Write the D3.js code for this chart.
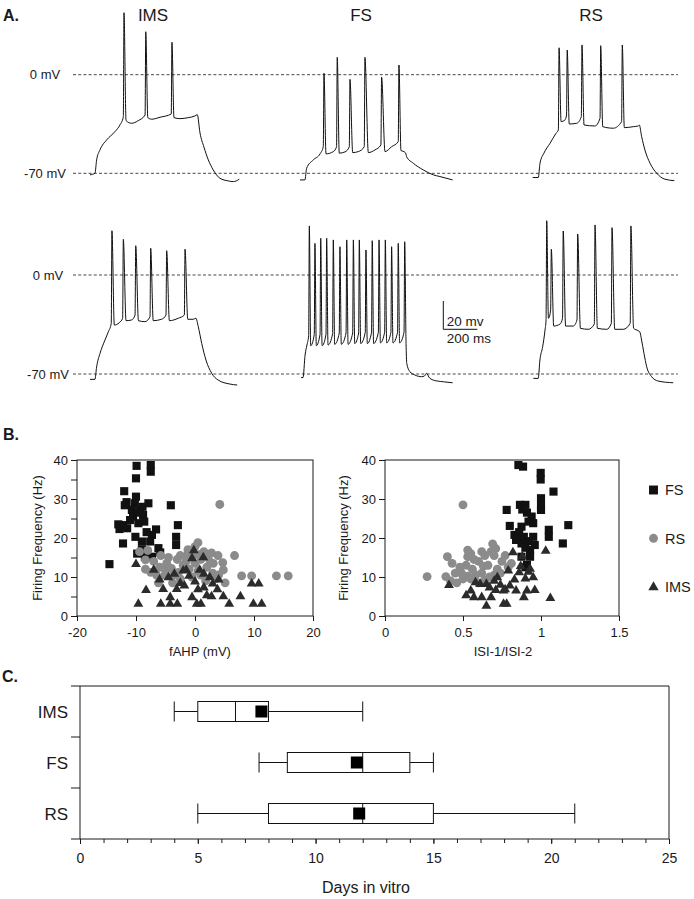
<!DOCTYPE html>
<html><head><meta charset="utf-8">
<script src="https://cdn.jsdelivr.net/npm/d3@7"></script>
<style>
body{margin:0;background:#fff}
svg{display:block}
</style>
</head><body>
<svg id="fig" width="694" height="899"></svg>
<script>
// ---------------- DATA ----------------
// Panel A: membrane-potential traces, [time (ms), Vm (mV)]; subthreshold points and spike peaks
const traceNames = ["IMS", "FS", "RS"];
const refLevels = [0, -70];
const refLabels = ["0 mV", "-70 mV"];

const imsTopEnv = [[0,-71.1],[29,-70],[39,-60.5],[59,-53.3],[98,-46.3],[147,-40.4],[176,-35.7],[196,-30],[212,-32.6],[245,-34.5],[284,-32.6],[324,-28.6],[340,-30.5],[363,-31.6],[412,-30.2],[478,-27.9],[494,-30.5],[529,-31.2],[578,-30.5],[617,-29.3],[631,-28.4],[647,-41.3],[670,-51.3],[696,-60.5],[725,-67.6],[764,-73.5],[813,-75.4],[843,-75.9],[878,-74.2]];
const imsTopSpikes = [[200,44],[328,30.5],[482,23]];

const fsTopEnv = [[0,-74.7],[29,-74.7],[39,-66.4],[78,-60.5],[118,-56.2],[137,-51.1],[153,-56.2],[196,-54.6],[215,-51.1],[231,-55.7],[265,-54.8],[290,-51.1],[310,-55.3],[343,-54.6],[378,-51.1],[402,-55.3],[441,-53.4],[476,-49.9],[500,-54.6],[539,-51.1],[578,-47.5],[594,-53.9],[612,-54.6],[623,-56.2],[627,-58.2],[666,-62.8],[725,-67.6],[784,-71.1],[823,-72.3],[898,-74.7]];
const fsTopSpikes = [[141,1],[219,12.3],[294,-3.3],[382,12.3],[480,-1.8],[582,6.9]];

const rsTopEnv = [[0,-73],[33,-73],[43,-62.8],[66,-55.7],[102,-48.7],[137,-41.6],[151,-39.2],[167,-33.3],[190,-32.1],[199,-28.6],[215,-35],[259,-34.5],[286,-29.8],[302,-35.7],[366,-36.4],[396,-30.9],[412,-36.9],[474,-38],[523,-33.3],[539,-37.6],[592,-36.9],[621,-36.4],[627,-35.7],[641,-44],[660,-53.4],[690,-62.8],[729,-69.9],[778,-74.2],[833,-75.2]];
const rsTopSpikes = [[155,19.1],[203,17.5],[290,21.1],[400,20.6],[527,21.1]];

const imsBotEnv = [[0,-73.8],[29,-73.8],[39,-64.9],[59,-55.4],[88,-46],[108,-40.1],[125,-34.2],[143,-35.4],[172,-33.7],[192,-30.6],[212,-32.3],[245,-31.8],[265,-28.3],[285,-32.3],[323,-33],[353,-29.5],[372,-32.3],[421,-31.3],[447,-28.3],[467,-32.3],[519,-30.6],[555,-28.3],[575,-31.3],[607,-31.3],[623,-30.6],[637,-36.6],[657,-48.3],[682,-60.1],[716,-69.5],[754,-74.3],[823,-77.1],[866,-77.8]];
const imsBotSpikes = [[129,31.3],[196,25.2],[269,20.7],[357,18.9],[451,17.2],[559,18.2]];

const fsBotEnv = [[0,-72.5],[12,-72.5],[24,-56.6],[35,-49.5],[45,-43],[57,-50],[78,-42],[90,-50],[112,-42],[124,-50],[147,-42],[159,-49.5],[186,-41.5],[198,-49],[225,-41],[237,-49],[265,-41],[277,-49],[304,-41],[316,-48.5],[339,-41],[351,-48.5],[378,-40.5],[390,-48.5],[415,-40.5],[427,-48.5],[455,-40.5],[467,-48],[492,-40.5],[504,-48],[529,-40.5],[541,-48],[568,-40.5],[580,-48],[606,-40.5],[618,-48.5],[622,-62.4],[641,-68.4],[670,-70.7],[709,-71.9],[726,-71.4],[739,-69.5],[752,-72.1],[778,-74.3],[837,-75.5],[892,-76.2]];
const fsBotSpikes = [[49,34.7],[82,22.4],[116,26],[151,26],[190,24.8],[229,20],[269,24.8],[308,24.8],[343,24.8],[382,17.7],[419,24.3],[459,24.8],[496,24.8],[533,20],[572,22.4],[610,23.5]];

const rsBotEnv = [[0,-73.1],[29,-73.1],[39,-60.1],[55,-50.7],[69,-38.9],[75,-31.8],[89,-30.6],[102,-24.8],[120,-36.1],[157,-34.7],[172,-30.6],[190,-36.1],[235,-36.1],[257,-31.8],[277,-37.7],[323,-38.4],[359,-34.7],[377,-37.7],[432,-38.4],[459,-34.2],[479,-38.4],[529,-38.4],[570,-34.2],[590,-37.7],[617,-39.4],[627,-40.3],[637,-46],[651,-55.4],[667,-64.9],[696,-71.9],[735,-75],[823,-76.2]];
const rsBotSpikes = [[79,38.4],[106,18.2],[176,31.1],[261,29],[363,35.4],[463,33.5],[574,34.7]];

const scaleBarMv = 20;
const scaleBarMs = 200;

// Panel B: [fAHP (mV), firing frequency (Hz)]
const fahpFS = [[-9.9,38.5],[-7.5,38.7],[-7.5,37.0],[-10,35.3],[-12,32],[-10,30.6],[-11.6,29.2],[-10.2,28.9],[-7.9,28.9],[-4.1,28.4],[-10.7,27.2],[-9.3,27.2],[-8.8,25.9],[-10.5,25.5],[-9.5,26.5],[-11,24.6],[-9.6,23.8],[-12.2,23.3],[-12.8,22.3],[-6.6,22.2],[-2.9,23.3],[-7.3,20.8],[-10.1,20.3],[-3.2,20.3],[-3.2,18.2],[-12.2,18.6],[-9,19.1],[-7.6,19.1],[-6.2,17.4],[-9,17.1],[-8.5,15.2],[-7.3,15.2],[-14.5,13.3],[-13,23.5],[-11.5,22.5],[-8.2,21.5],[-9.8,16.0],[-5.9,16.3],[-8.9,28.0],[-11.9,28.4],[-8.6,24.2]];
const fahpRS = [[4.2,28.6],[13.8,10.3],[15.8,10.3],[7.9,10.3],[9.6,10.3],[6.7,15.5],[3.9,15.5],[4.7,13.7],[0.5,18.8],[-8.4,12],[-8.4,14.4],[-6.2,8.5],[-5.8,15.5],[-4.8,13.5],[-5.1,10.5],[-3.7,10.5],[-2.5,15.5],[-1.4,15.5],[-0.3,15.5],[3.1,13.5],[4.8,11.8],[5.1,8.5],[-3.8,8.5],[0,17.8],[-9.4,16.5],[-8,16.8],[-7,14],[-6,12.5],[-5,11.8],[-2,13],[-1,12],[0,13.5],[1,14.5],[2,12.5],[3,11],[1.5,16.5],[-0.5,10],[-2.5,9.5],[-4,12.2],[-3,14.5],[1,10.5],[2.2,15],[3.6,9.6],[0.5,11.5],[-1.5,14],[-2.8,11.2],[-4.5,15],[2.8,16.2],[-6.5,10.5],[-7.5,11.2],[4,10.5],[1.8,9.0],[-1.2,17],[0.8,15.8],[2.6,13.8]];
const fahpIMS = [[-10,13.5],[-8.3,6.8],[-9.6,3.3],[-5.8,3.3],[-5.4,7.1],[-4.2,3.3],[-3,3.3],[-4.2,5],[-3.1,7.1],[-4.5,10.1],[-2,11.8],[-1,10.5],[-0.2,17],[1.4,15.2],[2.5,10.1],[0.3,3.3],[1,3.3],[2.8,5.2],[4.8,5.2],[5.8,3.3],[7.7,5.2],[9.6,8.5],[10.8,8.5],[9.9,3.3],[11.3,3.3],[-3.5,11],[-1.5,12],[0,9],[0.5,7],[1.5,7.5],[2,5.5],[3,8.5],[3.8,7],[-0.5,5],[-1.8,8],[0.8,12],[-0.5,15],[-2.5,8.6],[-6,9.5],[-7,12],[4,9.5],[1.5,11]];

// Panel B: [ISI-1/ISI-2, firing frequency (Hz)]
const isiFS = [[0.855,38.7],[0.885,38.3],[0.998,36.7],[0.998,35],[1.08,31.9],[1.0,30.2],[1.0,28.5],[0.78,27.2],[0.865,28.5],[0.9,28.5],[0.91,26.5],[0.94,25.5],[0.8,23.1],[0.875,22.9],[0.83,20.8],[0.89,20.3],[0.95,20.3],[1.05,22.1],[1.05,20.3],[1.175,23.3],[1.14,18.6],[0.875,18.6],[0.96,18.2],[0.875,15.2],[0.93,16.9],[0.93,15.2],[0.91,13.1],[0.88,27.3],[0.92,24.2],[0.86,21.5],[0.9,17.5],[0.95,23.8],[1.0,27.2],[0.84,19.5],[0.92,19.2],[0.9,12.5]];
const isiRS = [[0.5,28.5],[0.27,10.1],[0.39,10.1],[0.4,15.2],[0.43,13.5],[0.53,16.9],[0.53,15.2],[0.69,18.5],[0.81,13.5],[0.46,8.5],[0.49,11],[0.52,13],[0.56,12],[0.6,14],[0.62,11],[0.64,15.5],[0.66,13],[0.7,15.5],[0.72,12],[0.75,14],[0.55,9.5],[0.58,10.5],[0.6,8.5],[0.67,10],[0.45,11],[0.5,9.5],[0.53,10.2],[0.62,16.5],[0.68,16.5],[0.74,11],[0.77,15.5],[0.57,14.5],[0.48,12.5],[0.42,9],[0.64,9.2],[0.7,10.5],[0.79,12.5],[0.63,12.8],[0.55,16],[0.71,17.3]];
const isiIMS = [[0.41,8.1],[0.55,6.7],[0.57,5],[0.65,2.8],[0.62,5],[0.76,3.3],[0.78,3.3],[0.68,5],[0.71,6.8],[0.76,6.7],[0.61,8.4],[0.65,8.4],[0.7,9.2],[0.82,16.5],[1.06,4.8],[1.03,16.9],[0.95,10.1],[0.96,6.8],[0.91,6.7],[0.89,5],[0.84,6.7],[0.86,11.4],[0.79,11.8],[0.83,9.5],[0.72,10.1],[0.74,8.2],[0.9,9.8],[0.92,11.5],[0.87,13],[0.8,8],[0.77,7],[0.58,8.8],[0.52,5.5],[0.67,7.5],[0.88,15.5],[0.93,12.3]];

const freqTicks = [0, 10, 20, 30, 40];
const freqMinor = [5, 15, 25, 35];
const fahpTicks = [-20, -10, 0, 10, 20];
const isiTicks = [0, 0.5, 1, 1.5];
const legendLabels = ["FS", "RS", "IMS"];

// Panel C: days in vitro box plots
const divCats = ["IMS", "FS", "RS"];
const divLow = [4, 7.6, 5];
const divQ1 = [5, 8.8, 8];
const divMedian = [6.6, 12, 12];
const divQ3 = [8, 14, 15];
const divHigh = [12, 15, 21];
const divMean = [7.7, 11.75, 11.85];
const divTicks = [0, 5, 10, 15, 20, 25];

// ---------------- DRAWING ----------------
const FONT = '"Liberation Sans", Arial, Helvetica, sans-serif';
const INK = "#1a1a1a";
const svg = d3.select("#fig");
svg.append("rect").attr("width", 694).attr("height", 899).attr("fill", "#fff");

function txt(x, y, s, size, opts = {}) {
  return svg.append("text").attr("x", x).attr("y", y).text(s)
    .attr("font-family", FONT).attr("font-size", size)
    .attr("fill", INK)
    .attr("font-weight", opts.bold ? "bold" : null)
    .attr("text-anchor", opts.anchor || "start")
    .attr("transform", opts.rotate ? `rotate(${opts.rotate},${x},${y})` : null);
}
function styleAxis(g, size) {
  g.attr("font-family", FONT).attr("font-size", size);
  g.selectAll("line").attr("stroke", INK);
  g.selectAll("path.domain").remove();
  g.selectAll("text").attr("fill", INK);
}

// Panel labels
txt(3, 21, "A.", 16, {bold: true});
txt(3, 440, "B.", 16, {bold: true});
txt(2, 682, "C.", 16, {bold: true});

// ----- Panel A -----
const rows = [
  d3.scaleLinear().domain([-70, 0]).range([173.3, 74.7]),
  d3.scaleLinear().domain([-70, 0]).range([374, 275])
];
const labelCx = [45, 48];
rows.forEach((ys, r) => {
  refLevels.forEach((lv, i) => {
    svg.append("line").attr("x1", 73).attr("x2", 678)
      .attr("y1", ys(lv)).attr("y2", ys(lv))
      .attr("stroke", "#333").attr("stroke-width", 0.9)
      .attr("stroke-dasharray", "3,2.2");
    txt(labelCx[r], ys(lv) + 4.5, refLabels[i], 13, {anchor: "middle"});
  });
});
const colCenters = [153, 361, 591];
traceNames.forEach((n, i) => txt(colCenters[i], 21, n, 17, {anchor: "middle"}));

const traces = [
  {row: 0, x0: 90, env: imsTopEnv, spikes: imsTopSpikes},
  {row: 0, x0: 300, env: fsTopEnv, spikes: fsTopSpikes},
  {row: 0, x0: 532.7, env: rsTopEnv, spikes: rsTopSpikes},
  {row: 1, x0: 90, env: imsBotEnv, spikes: imsBotSpikes},
  {row: 1, x0: 301, env: fsBotEnv, spikes: fsBotSpikes},
  {row: 1, x0: 533.3, env: rsBotEnv, spikes: rsBotSpikes}
];
const msPerPx = 200 / 34;
traces.forEach(tr => {
  const xs = d3.scaleLinear().domain([0, 900]).range([tr.x0, tr.x0 + 900 / msPerPx]);
  const ys = rows[tr.row];
  const pts = tr.env.concat(tr.spikes).sort((a, b) => a[0] - b[0]);
  const line = d3.line().x(d => xs(d[0])).y(d => ys(d[1])).curve(d3.curveMonotoneX);
  svg.append("path").attr("d", line(pts)).attr("fill", "none")
    .attr("stroke", "#111").attr("stroke-width", 1).attr("stroke-linejoin", "round");
});

// Scale bar
{
  const ys = rows[1];
  const bx = 443.3, by = 329.3;
  const msScale = d3.scaleLinear().domain([0, 900]).range([0, 900 / msPerPx]);
  const vLen = ys(-70) - ys(-70 + scaleBarMv);
  svg.append("path")
    .attr("d", `M${bx},${by - vLen}V${by}H${bx + msScale(scaleBarMs)}`)
    .attr("fill", "none").attr("stroke", "#111").attr("stroke-width", 1);
  txt(bx + 3.5, by - 3.3, scaleBarMv + " mv", 13.5);
  txt(bx + 3.5, by + 13.3, scaleBarMs + " ms", 13.5);
}

// ----- Panel B -----
const yF = d3.scaleLinear().domain([0, 40]).range([616, 460]);
const xA = d3.scaleLinear().domain([-20, 20]).range([77, 313]);
const xI = d3.scaleLinear().domain([0, 1.5]).range([385, 619]);

const sqSym = d3.symbol(d3.symbolSquare, 66);
const ciSym = d3.symbol(d3.symbolCircle, 62);
const trSym = d3.symbol(d3.symbolTriangle, 42);
const colFS = "#111", colRS = "#8b8b8b", colIMS = "#2b2b2b";

function scatter(xs, fs, rs, ims, ticksX, minorY, titleX, titleCx, yTitleX) {
  const [x0, x1] = xs.range();
  // axes
  const gy = svg.append("g").attr("transform", `translate(${x0},0)`)
    .call(d3.axisLeft(yF).tickValues(freqTicks).tickSize(6).tickPadding(3));
  styleAxis(gy, 13);
  if (minorY) {
    const gm = svg.append("g").attr("transform", `translate(${x0},0)`)
      .call(d3.axisLeft(yF).tickValues(freqMinor).tickSize(6).tickFormat(""));
    styleAxis(gm, 13);
  }
  const gx = svg.append("g").attr("transform", `translate(0,616)`)
    .call(d3.axisBottom(xs).tickValues(ticksX).tickSize(5).tickPadding(7).tickFormat(d => String(d)));
  styleAxis(gx, 13);
  // points
  const g = svg.append("g");
  g.selectAll(".fs").data(fs).join("path")
    .attr("d", sqSym).attr("transform", d => `translate(${xs(d[0])},${yF(d[1])})`).attr("fill", colFS);
  g.selectAll(".rs").data(rs).join("path")
    .attr("d", ciSym).attr("transform", d => `translate(${xs(d[0])},${yF(d[1])})`).attr("fill", colRS);
  g.selectAll(".ims").data(ims).join("path")
    .attr("d", trSym).attr("transform", d => `translate(${xs(d[0])},${yF(d[1]) + 0.8})`).attr("fill", colIMS);
  // frame
  svg.append("rect").attr("x", x0).attr("y", 460).attr("width", x1 - x0).attr("height", 156)
    .attr("fill", "none").attr("stroke", INK).attr("stroke-width", 1);
  txt(titleCx, 656, titleX, 13, {anchor: "middle"});
  txt(yTitleX, 538, "Firing Frequency (Hz)", 13, {anchor: "middle", rotate: -90});
}
scatter(xA, fahpFS, fahpRS, fahpIMS, fahpTicks, true, "fAHP (mV)", 200, 42);
scatter(xI, isiFS, isiRS, isiIMS, isiTicks, false, "ISI-1/ISI-2", 503, 347.5);

// Legend
{
  const lx = 653.5, ly = [490, 538.3, 586.5];
  const syms = [d3.symbol(d3.symbolSquare, 80), d3.symbol(d3.symbolCircle, 62), d3.symbol(d3.symbolTriangle, 46)];
  const cols = [colFS, colRS, colIMS];
  legendLabels.forEach((l, i) => {
    svg.append("path").attr("d", syms[i]).attr("fill", cols[i])
      .attr("transform", `translate(${lx},${ly[i] + (i === 2 ? 0.8 : 0)})`);
    txt(665, ly[i] + 5.3, l, 14.5);
  });
}

// ----- Panel C -----
const xD = d3.scaleLinear().domain([0, 25]).range([80, 669]);
const yC = d3.scaleBand().domain(divCats).range([686, 839]);
const bh = 20;
{
  // frame
  const fr = svg.append("g").attr("stroke", INK).attr("stroke-width", 1).attr("fill", "none");
  fr.append("line").attr("x1", 71).attr("x2", 669).attr("y1", 686).attr("y2", 686);
  fr.append("line").attr("x1", 669).attr("x2", 669).attr("y1", 686).attr("y2", 839);
  fr.append("line").attr("x1", 80).attr("x2", 80).attr("y1", 686).attr("y2", 839);
  fr.append("line").attr("x1", 71).attr("x2", 669).attr("y1", 839).attr("y2", 839);
  divCats.slice(1).forEach(c => {
    fr.append("line").attr("x1", 71).attr("x2", 80).attr("y1", yC(c)).attr("y2", yC(c));
  });
  const ga = svg.append("g").attr("transform", "translate(0,839)")
    .call(d3.axisBottom(xD).tickValues(divTicks).tickSize(5).tickPadding(9));
  styleAxis(ga, 14);
  const gm = svg.append("g").attr("transform", "translate(0,839)")
    .call(d3.axisBottom(xD).tickValues(d3.range(0, 26)).tickSize(4).tickFormat(""));
  styleAxis(gm, 14);
  txt(366, 893, "Days in vitro", 16, {anchor: "middle"});

  divCats.forEach((c, i) => {
    const cy = yC(c) + yC.bandwidth() / 2;
    txt(68, cy + 6, c, 17, {anchor: "end"});
    const g = svg.append("g").attr("stroke", "#111").attr("stroke-width", 1);
    g.append("line").attr("x1", xD(divLow[i])).attr("x2", xD(divQ1[i])).attr("y1", cy).attr("y2", cy);
    g.append("line").attr("x1", xD(divQ3[i])).attr("x2", xD(divHigh[i])).attr("y1", cy).attr("y2", cy);
    [divLow[i], divHigh[i]].forEach(v => g.append("line").attr("x1", xD(v)).attr("x2", xD(v)).attr("y1", cy - bh / 2).attr("y2", cy + bh / 2));
    g.append("rect").attr("x", xD(divQ1[i])).attr("y", cy - bh / 2)
      .attr("width", xD(divQ3[i]) - xD(divQ1[i])).attr("height", bh).attr("fill", "#fff");
    g.append("line").attr("x1", xD(divMedian[i])).attr("x2", xD(divMedian[i])).attr("y1", cy - bh / 2).attr("y2", cy + bh / 2);
    svg.append("rect").attr("x", xD(divMean[i]) - 6).attr("y", cy - 6).attr("width", 12).attr("height", 12).attr("fill", "#000");
  });
}
</script>
</body></html>
